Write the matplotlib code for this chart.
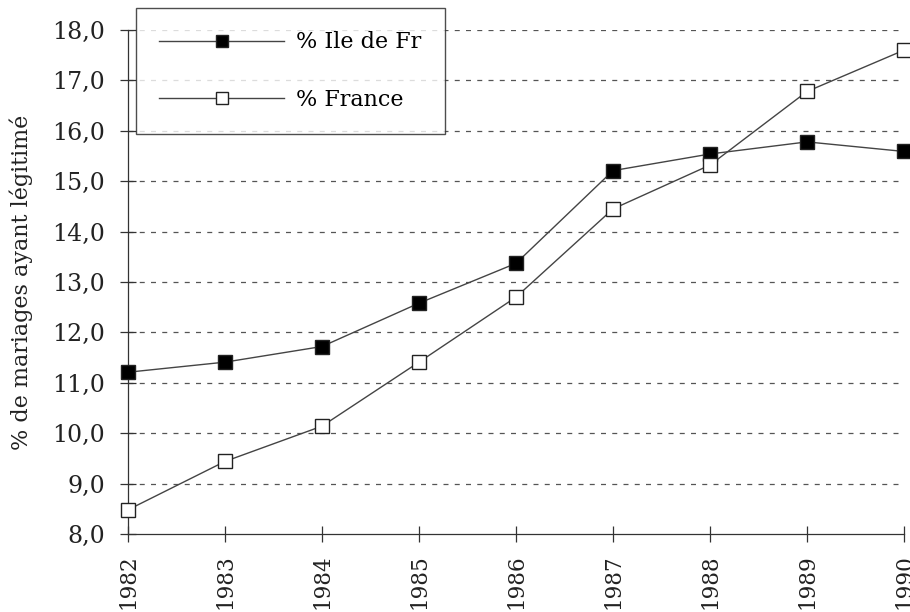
import matplotlib
matplotlib.use("Agg")
import matplotlib.pyplot as plt

years = [1982, 1983, 1984, 1985, 1986, 1987, 1988, 1989, 1990]
ile_de_fr = [11.21, 11.41, 11.72, 12.58, 13.37, 15.21, 15.54, 15.78, 15.59]
france = [8.48, 9.44, 10.14, 11.41, 12.70, 14.45, 15.32, 16.78, 17.60]
yticks = [8, 9, 10, 11, 12, 13, 14, 15, 16, 17, 18]
ylabels = ["8,0", "9,0", "10,0", "11,0", "12,0", "13,0", "14,0", "15,0", "16,0", "17,0", "18,0"]

plt.rcParams['font.family'] = ['DejaVu Serif']

fig = plt.figure(figsize=(9.1, 6.12), dpi=100)
ax = fig.add_axes([128/910, 1-534/612, (904-128)/910, (534-30)/612])

for y in yticks[1:]:
    ax.axhline(y, xmax=0.995, color='#555555', lw=0.9, ls=(0, (4, 5)), zorder=0)

ax.plot(years, ile_de_fr, color='#444444', lw=1.0, marker='s', markersize=10,
        markerfacecolor='black', markeredgecolor='#222222', label='% Ile de Fr', zorder=3,
        clip_on=False)
ax.plot(years, france, color='#444444', lw=1.0, marker='s', markersize=10,
        markerfacecolor='white', markeredgecolor='#222222', label='% France', zorder=3,
        clip_on=False)

ax.set_xlim(1982, 1990)
ax.set_ylim(8, 18)
ax.set_yticks(yticks)
ax.set_yticklabels(ylabels)
ax.set_xticks(years)
ax.set_xticklabels([str(y) for y in years], rotation=90)
ax.tick_params(axis='both', direction='inout', length=11, width=0.9, color='#333333',
               labelcolor='#222222')
ax.tick_params(axis='y', pad=11, labelsize=17)
ax.tick_params(axis='x', pad=9, labelsize=15.5)
for s in ['top', 'right']:
    ax.spines[s].set_visible(False)
for s in ['left', 'bottom']:
    ax.spines[s].set_color('#333333')
    ax.spines[s].set_linewidth(0.9)
ax.set_ylabel("% de mariages ayant légitimé", fontsize=16, color='#222222')
ax.yaxis.set_label_coords(-(128-33)/776, 0.5)
ax.patch.set_alpha(0)

leg = ax.legend(loc='upper left', bbox_to_anchor=(136/910, 1-8/612), bbox_transform=fig.transFigure,
                borderaxespad=0, frameon=True, fancybox=False, fontsize=16,
                handlelength=5.6, handletextpad=0.55, labelspacing=1.6, borderpad=1.05,
                markerscale=0.85)
leg.get_frame().set_edgecolor('#222222')
leg.get_frame().set_linewidth(1.0)
leg.set_zorder(5)

fig.savefig("out.png", dpi=100)
